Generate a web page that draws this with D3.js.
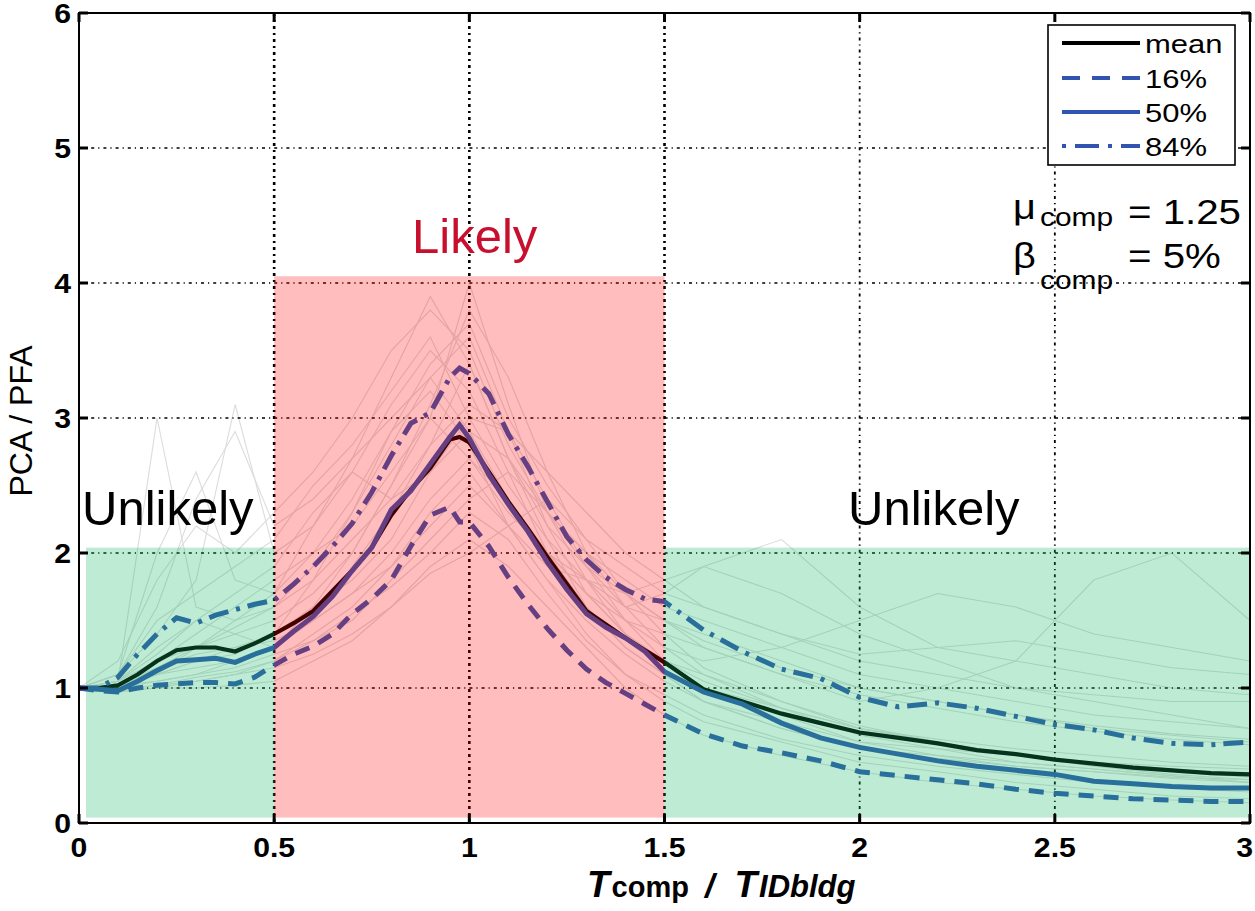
<!DOCTYPE html>
<html><head><meta charset="utf-8">
<script src="https://cdn.jsdelivr.net/npm/d3@7"></script>
<style>body{margin:0;background:#fff}svg{display:block}text{font-family:"Liberation Sans",Arial,Helvetica,sans-serif}</style>
</head><body><svg id="c" width="1255" height="911"></svg>
<script>
// ---------- data ----------
const xs = [0,0.05,0.1,0.15,0.2,0.25,0.3,0.35,0.4,0.45,0.5,0.55,0.6,0.65,0.7,0.75,0.8,0.85,0.9,0.95,0.975,1.0,1.05,1.1,1.15,1.2,1.25,1.3,1.35,1.4,1.45,1.5,1.6,1.7,1.8,1.9,2.0,2.1,2.2,2.3,2.4,2.5,2.6,2.7,2.8,2.9,3.0];
const meanVals = [1.00,1.00,1.02,1.10,1.20,1.28,1.30,1.30,1.27,1.33,1.40,1.48,1.57,1.72,1.87,2.04,2.28,2.47,2.63,2.84,2.86,2.82,2.60,2.38,2.18,1.97,1.77,1.57,1.47,1.37,1.28,1.19,0.99,0.90,0.81,0.74,0.67,0.63,0.59,0.54,0.51,0.47,0.44,0.41,0.39,0.37,0.36];
const p50Vals = [1.00,0.99,0.98,1.05,1.13,1.20,1.21,1.22,1.19,1.25,1.30,1.42,1.53,1.68,1.87,2.04,2.32,2.46,2.66,2.86,2.95,2.85,2.58,2.36,2.16,1.93,1.73,1.55,1.45,1.37,1.27,1.12,0.97,0.88,0.74,0.63,0.56,0.51,0.46,0.42,0.39,0.36,0.31,0.29,0.27,0.26,0.26];
const p16Vals = [1.00,0.98,0.97,1.00,1.02,1.03,1.04,1.04,1.03,1.08,1.17,1.25,1.31,1.40,1.55,1.66,1.80,2.05,2.28,2.34,2.23,2.23,2.05,1.82,1.62,1.44,1.28,1.14,1.04,0.96,0.88,0.80,0.66,0.57,0.52,0.46,0.38,0.35,0.32,0.29,0.25,0.22,0.20,0.18,0.17,0.16,0.16];
const p84Vals = [1.00,1.00,1.08,1.25,1.40,1.52,1.48,1.54,1.58,1.62,1.65,1.77,1.90,2.05,2.22,2.45,2.72,2.96,3.04,3.30,3.37,3.33,3.18,2.88,2.64,2.38,2.12,1.95,1.82,1.73,1.66,1.64,1.43,1.27,1.14,1.07,0.93,0.86,0.89,0.85,0.79,0.73,0.69,0.63,0.59,0.58,0.60];

// individual records (thin gray lines)
const gxs = [0,0.1,0.2,0.3,0.4,0.5,0.6,0.7,0.8,0.9,1.0,1.1,1.2,1.3,1.4,1.5,1.6,1.8,2.0,2.2,2.4,2.6,2.8,3.0];
const rec01 = [1,1.05,3.0,1.6,1.5,1.6,1.9,2.3,2.8,3.3,3.6,2.9,2.2,1.7,1.4,1.2,1.0,0.8,0.6,0.5,0.45,0.4,0.35,0.3];
const rec02 = [1,1.1,1.4,1.8,3.1,2.0,2.2,2.6,3.1,3.5,3.2,2.6,2.0,1.6,1.3,1.1,0.9,0.7,0.55,0.5,0.42,0.38,0.33,0.3];
const rec03 = [1,1.0,1.2,1.3,1.4,1.5,1.7,2.0,2.5,3.0,4.0,3.1,2.3,1.8,1.4,1.2,1.1,0.9,0.7,0.6,0.5,0.45,0.4,0.35];
const rec04 = [1,0.98,1.0,1.05,1.1,1.2,1.4,1.6,1.9,2.2,2.5,2.2,1.8,1.4,1.1,0.9,0.75,0.6,0.45,0.38,0.3,0.25,0.2,0.18];
const rec05 = [1,1.2,1.8,2.2,2.0,2.3,2.6,3.0,3.5,3.8,3.5,2.8,2.3,2.0,1.8,1.6,1.5,1.3,1.1,1.0,0.9,0.8,0.75,0.7];
const rec06 = [1,1.0,1.1,1.2,1.3,1.4,1.6,1.8,2.1,2.6,3.0,2.9,2.4,1.9,1.6,1.7,1.9,2.1,1.6,1.3,1.2,1.1,1.0,0.95];
const rec07 = [1,1.05,1.3,1.5,1.4,1.3,1.5,1.7,2.0,2.4,2.7,2.4,2.0,1.7,1.5,1.4,1.3,1.1,0.9,1.0,1.2,1.8,2.0,1.5];
const rec08 = [1,0.97,1.0,1.0,1.02,1.05,1.2,1.35,1.6,1.9,2.1,1.9,1.6,1.3,1.0,0.8,0.65,0.5,0.38,0.3,0.25,0.2,0.17,0.15];
const rec09 = [1,1.1,1.5,1.7,1.9,2.1,2.5,2.8,3.2,3.6,3.0,2.5,2.1,1.8,1.5,1.3,1.2,1.3,1.5,1.7,1.6,1.4,1.3,1.2];
const rec10 = [1,1.0,1.15,1.25,1.3,1.35,1.5,1.9,2.3,2.8,3.4,2.7,2.1,1.6,1.3,1.1,0.9,0.75,0.6,0.55,0.5,0.45,0.42,0.4];
const rec11 = [1,1.05,1.2,1.4,1.6,1.8,2.0,2.2,2.6,3.0,2.7,2.3,2.0,1.8,1.6,1.5,1.4,1.2,1.0,0.9,0.8,0.7,0.65,0.6];
const rec12 = [1,1.0,1.05,1.1,1.15,1.25,1.35,1.5,1.8,2.1,2.4,2.6,2.3,1.9,1.5,1.2,1.0,0.85,0.7,0.6,0.5,0.42,0.36,0.32];
const rec13 = [1,1.1,2.0,2.6,1.8,1.7,2.0,2.4,2.9,3.4,3.7,3.0,2.5,2.1,1.9,1.7,1.6,1.4,1.2,1.1,1.0,0.95,0.9,0.9];
const rec14 = [1,1.0,1.1,1.15,1.2,1.3,1.5,1.7,1.9,2.3,2.6,2.2,1.9,1.8,1.7,1.8,1.9,1.7,1.4,1.2,1.0,0.9,0.8,0.7];
const rec15 = [1,1.0,1.1,1.3,1.5,1.7,2.2,2.7,3.0,3.3,2.9,2.4,2.0,1.7,1.4,1.2,1.05,0.85,0.7,0.62,0.55,0.5,0.45,0.42];
const rec16 = [1,1.02,1.05,1.1,1.2,1.3,1.6,2.0,2.5,3.1,3.8,3.3,2.6,2.0,1.6,1.3,1.1,0.85,0.65,0.55,0.45,0.4,0.35,0.3];
const rec17 = [1,1.05,1.25,1.5,1.7,1.9,2.3,2.6,2.4,2.6,2.9,2.7,2.3,2.0,1.7,1.5,1.3,1.1,0.95,0.85,0.75,0.68,0.62,0.58];
const rec18 = [1,0.98,1.02,1.08,1.12,1.2,1.35,1.55,1.75,2.0,2.3,2.1,1.7,1.35,1.1,0.95,0.8,0.62,0.5,0.42,0.36,0.3,0.26,0.23];
const rec19 = [1,1.1,1.6,2.4,2.9,2.2,2.4,2.7,3.3,3.9,3.4,2.7,2.2,1.9,1.7,1.5,1.35,1.15,1.0,0.9,0.8,0.72,0.66,0.62];
const rec20 = [1,1.0,1.1,1.2,1.25,1.4,1.8,2.3,2.9,3.2,2.8,2.2,1.8,1.5,1.25,1.05,0.9,0.7,0.55,0.48,0.42,0.38,0.34,0.32];
const rec21 = [1,1.03,1.15,1.3,1.45,1.6,1.8,2.1,2.4,2.8,3.1,2.9,2.6,2.3,2.0,1.8,1.6,1.4,1.25,1.3,1.35,1.25,1.15,1.1];
const rec22 = [1,0.99,1.02,1.05,1.1,1.15,1.25,1.4,1.6,1.85,2.0,2.2,2.4,2.1,1.7,1.4,1.15,0.9,0.72,0.6,0.5,0.44,0.38,0.34];
const records = [rec01,rec02,rec03,rec04,rec05,rec06,rec07,rec08,rec09,rec10,rec11,rec12,rec13,rec14,rec15,rec16,rec17,rec18,rec19,rec20,rec21,rec22];

const xTicks = [0,0.5,1,1.5,2,2.5,3];
const xTickLabels = ["0","0.5","1","1.5","2","2.5","3"];
const yTicks = [0,1,2,3,4,5,6];
const yTickLabels = ["0","1","2","3","4","5","6"];

// shaded zones
const zoneX0 = [0.018, 0.5, 1.5];
const zoneX1 = [0.5, 1.5, 2.998];
const zoneTop = [2.04, 4.05, 2.04];
const zoneBottom = 0.04;
const zoneLabels = ["Unlikely","Likely","Unlikely"];

const legendNames = ["mean","16%","50%","84%"];

// ---------- drawing ----------
const svg = d3.select("#c");
const x = d3.scaleLinear().domain([0,3]).range([79,1250]);
const y = d3.scaleLinear().domain([0,6]).range([823,13]);
const L = x(0), R = x(3), T = y(6), B = y(0);
const BLUE = "#3154b0";

function stretchText(g, px, py, str, size, anchor, sx, opts={}) {
  const t = g.append("text").attr("transform", `translate(${px},${py}) scale(${sx},1)`)
    .attr("text-anchor", anchor).attr("font-size", size).attr("fill", opts.fill||"#000")
    .attr("font-weight", opts.weight||"normal").text(str);
  if (opts.style) t.attr("font-style", opts.style);
  return t;
}

// gray individual records
const gl = d3.line().x((d,i)=>x(gxs[i])).y(d=>y(d));
svg.append("g").selectAll("path").data(records).join("path")
  .attr("d", gl).attr("fill","none").attr("stroke","#dcdcdc").attr("stroke-width",1.1);

// grid
const grid = svg.append("g").attr("stroke","#000").attr("fill","none");
yTicks.filter(v=>v>0&&v<6).forEach(v=>{
  grid.append("line").attr("x1",L).attr("x2",R).attr("y1",y(v)).attr("y2",y(v))
    .attr("stroke-width",1.6).attr("stroke-dasharray","3,4,1.2,4");
});
xTicks.filter(v=>v>0&&v<3).forEach(v=>{
  grid.append("line").attr("y1",T).attr("y2",B).attr("x1",x(v)).attr("x2",x(v))
    .attr("stroke-width", v<=1.5 ? 2.6 : 1.8).attr("stroke-dasharray", v<=1.5 ? "3,4,2,4" : "3,4,1.2,4");
});

// statistic curves
const ln = d3.line().x((d,i)=>x(xs[i])).y(d=>y(d));
const curves = svg.append("g").attr("fill","none");
curves.append("path").attr("d", ln(meanVals)).attr("stroke","#000").attr("stroke-width",4.2);
curves.append("path").attr("d", ln(p16Vals)).attr("stroke",BLUE).attr("stroke-width",5).attr("stroke-dasharray","15,10");
curves.append("path").attr("d", ln(p84Vals)).attr("stroke",BLUE).attr("stroke-width",5).attr("stroke-dasharray","20,8,4,8");
curves.append("path").attr("d", ln(p50Vals)).attr("stroke",BLUE).attr("stroke-width",5);

// shaded zones (translucent overlays)
const zoneColor = ["rgb(23,184,101)","rgb(255,0,0)","rgb(23,184,101)"];
const zoneOpacity = [0.28,0.26,0.28];
svg.append("g").selectAll("rect").data(zoneX0).join("rect")
  .attr("x",(d)=>x(d)).attr("width",(d,i)=>x(zoneX1[i])-x(d))
  .attr("y",(d,i)=>y(zoneTop[i])).attr("height",(d,i)=>y(zoneBottom)-y(zoneTop[i]))
  .attr("fill",(d,i)=>zoneColor[i]).attr("fill-opacity",(d,i)=>zoneOpacity[i]);

// axes frame and ticks
const ax = svg.append("g").attr("stroke","#000");
ax.append("rect").attr("x",L).attr("y",T).attr("width",R-L).attr("height",B-T).attr("fill","none").attr("stroke-width",2);
xTicks.forEach(v=>{
  ax.append("line").attr("x1",x(v)).attr("x2",x(v)).attr("y1",B).attr("y2",B-9).attr("stroke-width",3);
  ax.append("line").attr("x1",x(v)).attr("x2",x(v)).attr("y1",T).attr("y2",T+9).attr("stroke-width",3);
});
yTicks.forEach(v=>{
  ax.append("line").attr("x1",L).attr("x2",L+9).attr("y1",y(v)).attr("y2",y(v)).attr("stroke-width",3);
  ax.append("line").attr("x1",R).attr("x2",R-9).attr("y1",y(v)).attr("y2",y(v)).attr("stroke-width",3);
});

// tick labels
const tl = svg.append("g");
xTicks.forEach((v,i)=>{
  const last = i===xTicks.length-1;
  stretchText(tl, last ? 1253 : x(v), 857, xTickLabels[i], 27, last ? "end" : "middle", 1.12, {weight:"bold"});
});
yTicks.forEach((v,i)=>stretchText(tl, 71, y(v)+10, yTickLabels[i], 27, "end", 1.12, {weight:"bold"}));

// axis titles
svg.append("text").attr("transform",`translate(32,${(T+B)/2+3}) rotate(-90)`).attr("text-anchor","middle")
  .attr("font-size",32).attr("fill","#000").text("PCA / PFA");
const xt = svg.append("text").attr("x",587).attr("y",897).attr("fill","#000").attr("font-weight","bold");
xt.append("tspan").attr("font-size",37).attr("font-style","italic").text("T");
xt.append("tspan").attr("font-size",29).attr("dx",2).text("comp");
xt.append("tspan").attr("font-size",34).attr("font-style","italic").attr("dx",16).text("/");
xt.append("tspan").attr("font-size",37).attr("font-style","italic").attr("dx",20).text("T");
xt.append("tspan").attr("font-size",31).attr("font-style","italic").attr("dx",2).text("IDbldg");

// zone labels
const zl = svg.append("g").attr("font-size",49);
zl.append("text").attr("x",82).attr("y",525).attr("fill","#000").text(zoneLabels[0]);
zl.append("text").attr("x",412).attr("y",253).attr("fill","#c8102e").text(zoneLabels[1]);
zl.append("text").attr("x",848).attr("y",525).attr("fill","#000").text(zoneLabels[2]);

// parameter annotation
const pa = svg.append("g");
stretchText(pa, 1013, 219, "μ", 36, "start", 1.1);
stretchText(pa, 1040, 226, "comp", 26, "start", 1.15);
stretchText(pa, 1128, 224, "= 1.25", 35, "start", 1.15);
stretchText(pa, 1013, 268, "β", 36, "start", 1.1);
stretchText(pa, 1040, 289, "comp", 26, "start", 1.15);
stretchText(pa, 1128, 268, "= 5%", 35, "start", 1.15);

// legend
const lg = svg.append("g");
lg.append("rect").attr("x",1048).attr("y",25).attr("width",187).attr("height",140).attr("fill","#fff").attr("stroke","#000").attr("stroke-width",1.6);
const legY = [43,78,112,146];
const legStroke = ["#000",BLUE,BLUE,BLUE];
const legDash = [null,"18,12",null,"4,9,24,9"];
legendNames.forEach((n,i)=>{
  const l = lg.append("line").attr("x1",1062).attr("x2",1140).attr("y1",legY[i]).attr("y2",legY[i])
    .attr("stroke",legStroke[i]).attr("stroke-width",4);
  if (legDash[i]) l.attr("stroke-dasharray",legDash[i]);
  stretchText(lg, 1145, legY[i]+10, n, 25, "start", 1.24);
});
</script></body></html>
